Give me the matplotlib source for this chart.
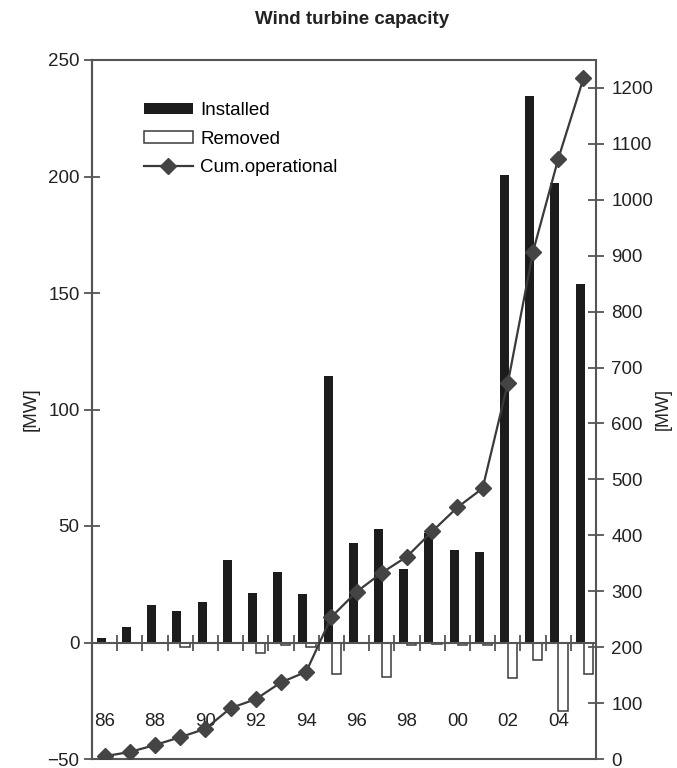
import numpy as np
import matplotlib.pyplot as plt
from matplotlib.ticker import MultipleLocator

plt.rcParams['font.family'] = ['Liberation Sans', 'DejaVu Sans']

# data (MW)
years = ['86', '87', '88', '89', '90', '91', '92', '93', '94', '95',
         '96', '97', '98', '99', '00', '01', '02', '03', '04', '05']
installed = [2, 6.5, 16, 13.5, 17.3, 35.6, 21.4, 30.4, 20.7, 114.5,
             42.9, 48.5, 31.7, 47, 39.5, 39, 200.5, 234.5, 197, 154]
removed = [0, 0, 0, -2, 0, 0, -4.3, -1.1, -2, -13.7,
           0, -14.6, -1.2, -0.5, -1.2, -0.9, -15.4, -7.7, -29.6, -13.7]
cum_operational = [5, 12.5, 25, 39, 54, 91, 107, 137, 156, 254,
                   299, 333, 362, 407, 450, 484, 672, 907, 1073, 1217]

axis_col = '#555555'
text_col = '#222222'

x = np.arange(len(years))

fig = plt.figure(figsize=(6.77, 7.68), dpi=100)
ax = fig.add_axes([92/677, 9/768, 504/677, 699/768])

ax.bar(x - 0.13, installed, 0.36, color='#1c1c1c', label='Installed', zorder=2)
ax.bar(x + 0.19, removed, 0.36, facecolor='white', edgecolor='#3a3a3a',
       linewidth=1.1, label='Removed', zorder=2)

ax.set_xlim(-0.5, len(years) - 0.5)
ax.set_ylim(-50, 250)
ax.yaxis.set_major_locator(MultipleLocator(50))

# category axis sits on the zero line, labels far below it
ax.spines['bottom'].set_position(('data', 0))
ax.spines['top'].set_visible(False)
ax.spines['right'].set_visible(False)
for s in ax.spines.values():
    s.set_color(axis_col)
    s.set_linewidth(1.5)

ax.set_xticks(x[:-1] + 0.5)
ax.set_xticks(x, labels=[y if i % 2 == 0 else '' for i, y in enumerate(years)], minor=True)
ax.tick_params(axis='x', which='major', direction='inout', length=12, width=1.3,
               color=axis_col, labelbottom=False)
ax.tick_params(axis='x', which='minor', length=0, pad=51, labelsize=13.5, labelcolor=text_col)
ax.tick_params(axis='y', direction='inout', length=12, width=1.3, color=axis_col,
               labelsize=13.5, labelcolor=text_col, pad=3)
ax.set_ylabel('[MW]', fontsize=13.5, color=text_col, labelpad=6)

ax2 = ax.twinx()
ax2.plot(x, cum_operational, color='#3a3a3a', linewidth=1.6, marker='D',
         markersize=8, markerfacecolor='#444444', markeredgecolor='#444444',
         label='Cum.operational', zorder=3)
ax2.set_ylim(0, 1250)
ax2.yaxis.set_major_locator(MultipleLocator(100))
for s in ax2.spines.values():
    s.set_color(axis_col)
    s.set_linewidth(1.5)
ax2.tick_params(axis='y', direction='inout', length=12, width=1.3, color=axis_col,
                labelsize=13.5, labelcolor=text_col, pad=5)
ax2.set_ylabel('[MW]', fontsize=13, color=text_col, labelpad=1)

h1, l1 = ax.get_legend_handles_labels()
h2, l2 = ax2.get_legend_handles_labels()
ax2.legend(h1 + h2, l1 + l2, loc='upper left', bbox_to_anchor=(0.103, 0.94),
           frameon=False, fontsize=13.5, handlelength=2.6, handleheight=0.55,
           handletextpad=0.4, labelspacing=0.62, borderpad=0, borderaxespad=0)

fig.text(352/677, 1 - 19/768, 'Wind turbine capacity', ha='center', va='center',
         fontsize=13.5, fontweight='bold', color=text_col)

fig.savefig('out.png', dpi=100)
